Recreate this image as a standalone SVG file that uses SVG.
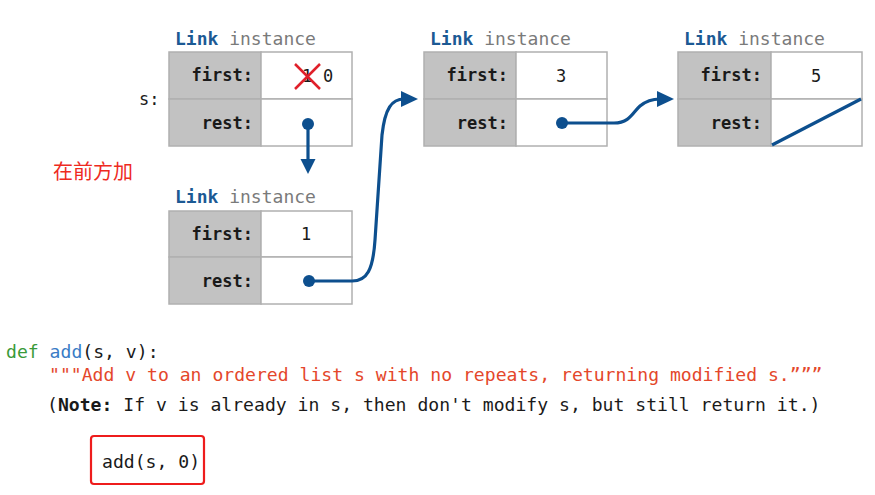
<svg xmlns="http://www.w3.org/2000/svg" width="875" height="495" viewBox="0 0 875 495">
<style>
  .mono { font-family: "DejaVu Sans Mono", "Liberation Mono", monospace; }
  .title { font-size: 18px; fill: #7a7a7a; }
  .title .cls { font-weight: bold; fill: #1c5a94; }
  .lbl { font-size: 17px; font-weight: bold; fill: #1a1a1a; text-anchor: end; }
  .val { font-size: 17px; fill: #1a1a1a; text-anchor: middle; }
  .grey { fill: #c2c2c2; stroke: #b0b0b0; stroke-width: 1.5; }
  .white { fill: #ffffff; stroke: #b0b0b0; stroke-width: 1.5; }
  .conn { fill: none; stroke: #0d4f8e; stroke-width: 3.2; stroke-linecap: round; stroke-linejoin: round; }
  .dot { fill: #0d4f8e; }
  .head { fill: #0d4f8e; }
  .code { font-size: 18.1px; fill: #1a1a1a; }
</style>
<rect width="875" height="495" fill="#ffffff"/>

<g id="link1">
  <text class="mono title" x="175" y="45"><tspan class="cls">Link</tspan> instance</text>
  <rect class="grey" x="169" y="52" width="92" height="47"/>
  <rect class="grey" x="169" y="99" width="92" height="47"/>
  <rect class="white" x="261" y="52" width="91" height="47"/>
  <rect class="white" x="261" y="99" width="91" height="47"/>
  <text class="mono lbl" x="253" y="81">first:</text>
  <text class="mono lbl" x="253" y="129">rest:</text>
  <text class="mono val" x="307" y="82" fill="#444">1</text>
  <line x1="295" y1="64" x2="320" y2="89" stroke="#e0202a" stroke-width="2.5"/>
  <line x1="320" y1="64" x2="295" y2="89" stroke="#e0202a" stroke-width="2.5"/>
  <text class="mono val" x="328" y="82">0</text>
</g>

<g id="s-label">
  <text class="mono" x="139" y="105" font-size="17" fill="#1a1a1a">s:</text>
</g>

<g id="note-label">
  <text x="53" y="179" font-family="'Noto Sans CJK SC', sans-serif" font-size="20" fill="#ee2a1e">在前方加</text>
</g>

<g id="link2">
  <text class="mono title" x="175" y="203"><tspan class="cls">Link</tspan> instance</text>
  <rect class="grey" x="169" y="211" width="92" height="46"/>
  <rect class="grey" x="169" y="257" width="92" height="47"/>
  <rect class="white" x="261" y="211" width="91" height="46"/>
  <rect class="white" x="261" y="257" width="91" height="47"/>
  <text class="mono lbl" x="253" y="240">first:</text>
  <text class="mono lbl" x="253" y="287">rest:</text>
  <text class="mono val" x="306" y="240">1</text>
</g>

<g id="link3">
  <text class="mono title" x="430" y="45"><tspan class="cls">Link</tspan> instance</text>
  <rect class="grey" x="424" y="52" width="92" height="47"/>
  <rect class="grey" x="424" y="99" width="92" height="47"/>
  <rect class="white" x="516" y="52" width="91" height="47"/>
  <rect class="white" x="516" y="99" width="91" height="47"/>
  <text class="mono lbl" x="508" y="81">first:</text>
  <text class="mono lbl" x="508" y="129">rest:</text>
  <text class="mono val" x="561" y="82">3</text>
</g>

<g id="link4">
  <text class="mono title" x="684" y="45"><tspan class="cls">Link</tspan> instance</text>
  <rect class="grey" x="678" y="52" width="93" height="47"/>
  <rect class="grey" x="678" y="99" width="93" height="47"/>
  <rect class="white" x="771" y="52" width="91" height="47"/>
  <rect class="white" x="771" y="99" width="91" height="47"/>
  <text class="mono lbl" x="762" y="81">first:</text>
  <text class="mono lbl" x="762" y="129">rest:</text>
  <text class="mono val" x="816" y="82">5</text>
  <line x1="772" y1="145" x2="861" y2="99" stroke="#0d4f8e" stroke-width="3.2"/>
</g>

<g id="connectors">
  <circle class="dot" cx="308" cy="124" r="6"/>
  <path class="conn" d="M308,124 L308,161"/>
  <polygon class="head" points="300.5,159 315.5,159 308,174"/>

  <circle class="dot" cx="309" cy="281" r="6"/>
  <path class="conn" d="M309,281 L352,281 C367,281 373,270 375,240 L382,135 C385,108 392,99 404,99"/>
  <polygon class="head" points="401,91 418,99 401,107"/>

  <circle class="dot" cx="562" cy="123" r="6"/>
  <path class="conn" d="M562,123 L614,123 C630,123 633,112 640,106 C646,101 651,99 660,99"/>
  <polygon class="head" points="657,91 674,99 657,107"/>
</g>

<g id="code">
  <text class="mono code" x="6" y="358"><tspan fill="#3a9a3a">def</tspan> <tspan fill="#3a7cc6">add</tspan>(s, v):</text>
  <text class="mono code" x="49" y="381" style="fill:#e4472b">"""Add v to an ordered list s with no repeats, returning modified s.”””</text>
  <text class="mono code" x="47" y="411">(<tspan font-weight="bold">Note:</tspan> If v is already in s, then don't modify s, but still return it.)</text>
</g>

<g id="call">
  <rect x="91" y="436" width="113" height="48" rx="3" fill="none" stroke="#ee1c1c" stroke-width="2.2"/>
  <text class="mono code" x="102" y="468">add(s, 0)</text>
</g>
</svg>
